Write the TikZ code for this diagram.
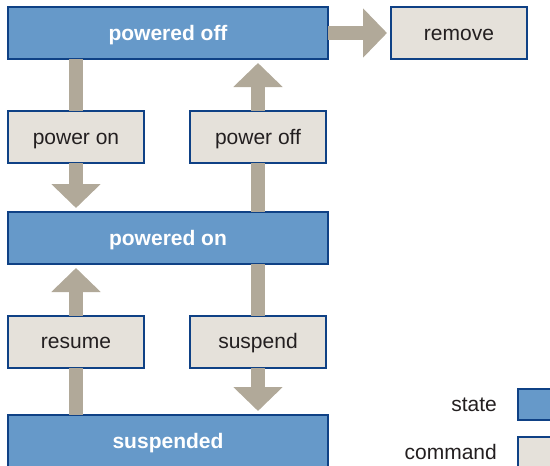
\documentclass[tikz,border=0pt]{standalone}
\usepackage{fontspec}
\setmainfont{Liberation Sans}
\usetikzlibrary{arrows.meta}
\definecolor{stfill}{HTML}{6699C9}
\definecolor{bdr}{HTML}{0F4185}
\definecolor{cmfill}{HTML}{E5E1DA}
\definecolor{arr}{HTML}{B1A999}
\definecolor{txt}{HTML}{231F20}
\tikzset{
  base/.style={draw=bdr, line width=2pt, inner sep=0pt, outer sep=0pt,
    text height=14pt, text depth=0pt,
    font=\fontsize{21}{25}\selectfont},
  statebox/.style={base, fill=stfill, text=white, font=\fontsize{21}{25}\selectfont\bfseries,
    minimum width=320pt, minimum height=52pt},
  cmdbox/.style={base, fill=cmfill, text=txt, minimum width=136pt, minimum height=52pt},
  shaft/.style={draw=arr, line width=14pt},
  arrw/.style={shaft, -{Triangle[width=48pt,length=24pt]}, shorten >=4pt},
  legtext/.style={text=txt, font=\fontsize{21}{25}\selectfont, anchor=east, inner sep=0pt,
    text height=14pt, text depth=0pt}
}
\begin{document}
\begin{tikzpicture}[x=1pt,y=-1pt]
\useasboundingbox (0,0) rectangle (550,466);
% nodes
\node[statebox] (off) at (168,33) {powered off};
\node[cmdbox] (remove) at (459,33) {remove};
\node[cmdbox] (pon) at (76,137) {power on};
\node[cmdbox] (poff) at (258,137) {power off};
\node[statebox] (on) at (168,238) {powered on};
\node[cmdbox] (resume) at (76,341.5) {resume};
\node[cmdbox] (suspend) at (258,341.5) {suspend};
\node[statebox] (susp) at (168,441) {suspended};
% legend
\node[base, fill=stfill, minimum width=40pt, minimum height=31pt] (lstate) at (538,404.5) {};
\node[base, fill=cmfill, minimum width=40pt, minimum height=31pt] (lcmd) at (538,452.5) {};
\node[legtext] (tstate) at (497,404) {state};
\node[legtext] (tcmd) at (497,452) {command};
% connectors
\draw[arrw] (off.east) -- (remove.west);
\draw[shaft] (off.south -| pon) -- (pon.north);
\draw[arrw] (pon.south) -- (on.north -| pon);
\draw[shaft] (on.north -| poff) -- (poff.south);
\draw[arrw] (poff.north) -- (off.south -| poff);
\draw[shaft] (on.south -| suspend) -- (suspend.north);
\draw[arrw] (suspend.south) -- (susp.north -| suspend);
\draw[shaft] (susp.north -| resume) -- (resume.south);
\draw[arrw] (resume.north) -- (on.south -| resume);
\end{tikzpicture}
\end{document}
